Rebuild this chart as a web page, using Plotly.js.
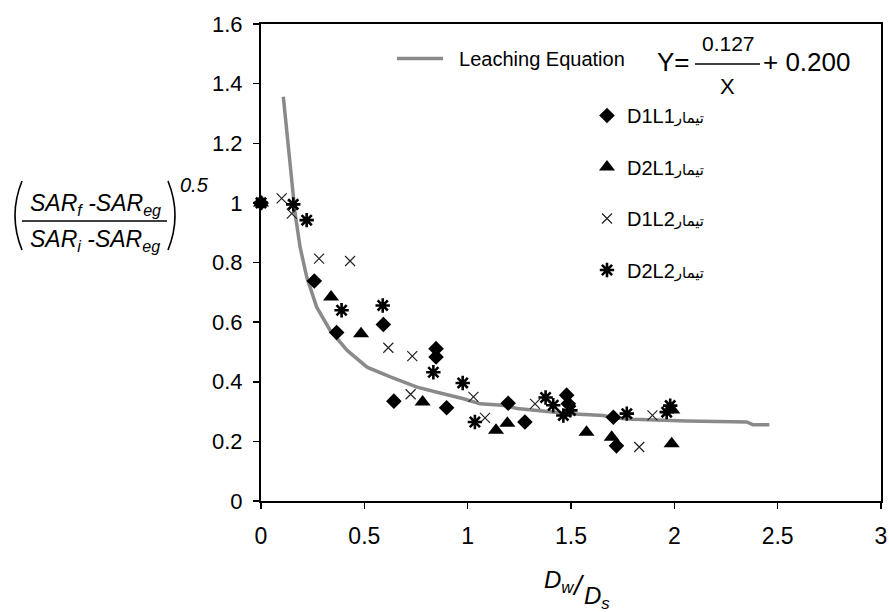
<!DOCTYPE html>
<html>
<head>
<meta charset="utf-8">
<script src="https://cdn.plot.ly/plotly-3.0.1.min.js"></script>
<style>html,body{margin:0;padding:0;background:#fff;}#chart{width:889px;height:612px;}</style>
</head>
<body>
<div id="chart"></div>
<script>
// ---- data ----
var curveX = [0.108, 0.124, 0.149, 0.165, 0.189, 0.221, 0.269, 0.334, 0.417, 0.513, 0.626, 0.755, 0.852, 0.98, 1.06, 1.17, 1.24, 1.366, 1.495, 1.656, 1.705, 1.80, 2.06, 2.35, 2.38, 2.46];
var curveY = [1.356, 1.244, 1.099, 0.964, 0.852, 0.752, 0.651, 0.573, 0.505, 0.449, 0.416, 0.382, 0.365, 0.343, 0.326, 0.321, 0.310, 0.302, 0.293, 0.287, 0.279, 0.274, 0.268, 0.265, 0.256, 0.256];

var d1l1X = [0, 0.258, 0.366, 0.592, 0.847, 0.847, 0.643, 0.898, 1.196, 1.277, 1.479, 1.487, 1.705, 1.72];
var d1l1Y = [1.0, 0.738, 0.565, 0.592, 0.511, 0.483, 0.335, 0.313, 0.328, 0.265, 0.355, 0.326, 0.281, 0.185];

var d2l1X = [0, 0.339, 0.484, 0.782, 1.137, 1.192, 1.575, 1.697, 1.987, 1.99];
var d2l1Y = [1.0, 0.684, 0.561, 0.332, 0.237, 0.261, 0.231, 0.214, 0.192, 0.305];

var d1l2X = [0, 0.1, 0.149, 0.281, 0.431, 0.616, 0.732, 0.724, 1.028, 1.084, 1.326, 1.83, 1.894];
var d1l2Y = [1.0, 1.015, 0.964, 0.813, 0.805, 0.514, 0.486, 0.358, 0.349, 0.279, 0.326, 0.181, 0.287];

var d2l2X = [0, 0.156, 0.221, 0.39, 0.589, 0.834, 0.976, 1.035, 1.377, 1.414, 1.463, 1.497, 1.77, 1.963, 1.98];
var d2l2Y = [1.0, 0.995, 0.942, 0.64, 0.656, 0.432, 0.396, 0.265, 0.347, 0.321, 0.287, 0.304, 0.293, 0.298, 0.32];

var seriesNames = ["D1L1", "D2L1", "D1L2", "D2L2"];
var arabicWord = "تیمار";
var lineName = "Leaching Equation";
var xTicks = [0, 0.5, 1, 1.5, 2, 2.5, 3];
var yTicks = [0, 0.2, 0.4, 0.6, 0.8, 1, 1.2, 1.4, 1.6];

// ---- layout helpers (pixel -> paper) ----
var L = 261, R = 8, T = 24, B = 111, W = 889, H = 612;
var PW = W - L - R, PH = H - T - B;
function px(p) { return (p - L) / PW; }
function py(p) { return (H - B - p) / PH; }

var FONT = "Liberation Sans, Arial, DejaVu Sans, sans-serif";

function legendLabel(n) {
  return n + "<span style='font-size:15px'>" + arabicWord + "</span>";
}

var traces = [
  { x: curveX, y: curveY, type: "scatter", mode: "lines", name: "\u00a0\u00a0" + lineName,
    line: { color: "#8a8a8a", width: 3.5 }, legend: "legend2", cliponaxis: false },
  { x: d1l1X, y: d1l1Y, type: "scatter", mode: "markers", name: legendLabel(seriesNames[0]),
    legendgroup: "a", marker: { symbol: "diamond", size: 12, color: "#000" }, cliponaxis: false },
  { x: d2l1X, y: d2l1Y, type: "scatter", mode: "markers", name: legendLabel(seriesNames[1]),
    legendgroup: "b", marker: { symbol: "triangle-up", size: 14, color: "#000" }, cliponaxis: false },
  { x: d1l2X, y: d1l2Y, type: "scatter", mode: "markers", name: legendLabel(seriesNames[2]),
    legendgroup: "c", marker: { symbol: "x-thin-open", size: 10, color: "#222", line: { width: 1.2, color: "#222" } }, cliponaxis: false },
  { x: d2l2X, y: d2l2Y, type: "scatter", mode: "markers", name: legendLabel(seriesNames[3]),
    legendgroup: "d", marker: { symbol: "asterisk-open", size: 12, color: "#000", line: { width: 2.6, color: "#000" } }, cliponaxis: false }
];

var annFont = function (s) { return { family: FONT, size: s, color: "#000" }; };

var annotations = [
  // equation
  { text: "Y=", x: px(692), y: py(62), xanchor: "right", yanchor: "middle", font: annFont(26) },
  { text: "0.127", x: px(728), y: py(43), xanchor: "center", yanchor: "middle", font: annFont(21) },
  { text: "X", x: px(727), y: py(87), xanchor: "center", yanchor: "middle", font: annFont(22) },
  { text: "+ 0.200", x: px(761), y: py(62), xanchor: "left", yanchor: "middle", font: annFont(26) },
  // y title
  { text: "<i>SAR<sub>f</sub> -SAR<sub>eg</sub></i>", x: px(95), y: py(205), xanchor: "center", yanchor: "middle", font: annFont(23) },
  { text: "<i>SAR<sub>i</sub> -SAR<sub>eg</sub></i>", x: px(95), y: py(240), xanchor: "center", yanchor: "middle", font: annFont(23) },
  { text: "<i>0.5</i>", x: px(194), y: py(185), xanchor: "center", yanchor: "middle", font: annFont(20) },
  // x title
  { text: "<i>D<sub>w</sub></i>", x: px(559), y: py(581), xanchor: "center", yanchor: "middle", font: annFont(24) },
  { text: "<i>/</i>", x: px(578), y: py(585), xanchor: "center", yanchor: "middle", font: annFont(28) },
  { text: "<i>D<sub>s</sub></i>", x: px(597), y: py(597), xanchor: "center", yanchor: "middle", font: annFont(24) }
];
annotations.forEach(function (a) { a.xref = "paper"; a.yref = "paper"; a.showarrow = false; });

function pPath(pts) { // pts: [[x,y],[cx,cy],[x,y]] in pixels
  return "M" + px(pts[0][0]) + "," + py(pts[0][1]) + " Q" + px(pts[1][0]) + "," + py(pts[1][1]) + " " + px(pts[2][0]) + "," + py(pts[2][1]);
}

var shapes = [
  { type: "line", xref: "paper", yref: "paper", x0: px(695), x1: px(760), y0: py(64), y1: py(64), line: { color: "#000", width: 1.5 } },
  { type: "line", xref: "paper", yref: "paper", x0: px(22), x1: px(167), y0: py(221), y1: py(221), line: { color: "#000", width: 1.5 } },
  { type: "path", xref: "paper", yref: "paper", path: pPath([[22, 181], [8, 215.5], [22, 250]]), line: { color: "#000", width: 1.6 } },
  { type: "path", xref: "paper", yref: "paper", path: pPath([[168, 181], [182, 215.5], [168, 250]]), line: { color: "#000", width: 1.6 } }
];

var layout = {
  width: W, height: H,
  margin: { l: L, r: R, t: T, b: B, pad: 0 },
  paper_bgcolor: "#fff", plot_bgcolor: "#fff",
  font: { family: FONT, color: "#000" },
  xaxis: { range: [0, 3], tickvals: xTicks, ticks: "outside", ticklen: 6, tickwidth: 1.5, tickcolor: "#000",
    showline: true, linewidth: 2, linecolor: "#000", mirror: true, showgrid: false, zeroline: false,
    tickfont: { family: FONT, size: 23, color: "#000" }, ticklabelstandoff: 7 },
  yaxis: { range: [0, 1.6], tickvals: yTicks, ticks: "outside", ticklen: 6, tickwidth: 1.5, tickcolor: "#000",
    showline: true, linewidth: 2, linecolor: "#000", mirror: true, showgrid: false, zeroline: false,
    tickfont: { family: FONT, size: 22, color: "#000" }, ticklabelstandoff: 6 },
  showlegend: true,
  legend: { x: px(587), y: py(96), xanchor: "left", yanchor: "top", bgcolor: "rgba(0,0,0,0)",
    font: { family: FONT, size: 20, color: "#000" }, traceorder: "grouped", tracegroupgap: 22.5, borderwidth: 0 },
  legend2: { x: px(392), y: py(39), xanchor: "left", yanchor: "top", bgcolor: "rgba(0,0,0,0)",
    font: { family: FONT, size: 20, color: "#000" }, itemwidth: 46, borderwidth: 0 },
  annotations: annotations,
  shapes: shapes
};

Plotly.newPlot("chart", traces, layout, { displayModeBar: false, staticPlot: true });
</script>
</body>
</html>
